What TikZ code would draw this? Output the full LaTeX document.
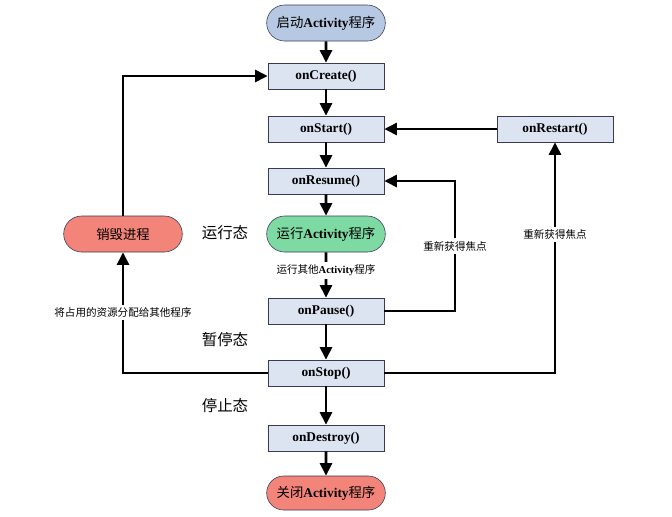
\documentclass[tikz,border=0pt]{standalone}
\usepackage{fontspec}
\setmainfont{Liberation Serif}
\newfontfamily\cjk{Noto Sans CJK SC}
\usetikzlibrary{shapes,arrows.meta}

\definecolor{methodfill}{HTML}{DCE4F2}
\definecolor{launchfill}{HTML}{B7C8E2}
\definecolor{runfill}{HTML}{7DDAA3}
\definecolor{endfill}{HTML}{F3847A}
\definecolor{edge}{HTML}{3A3A55}
\newcommand{\actname}{\textrm{\textbf{Activity}}}

\begin{document}
\begin{tikzpicture}[x=0.025cm, y=-0.025cm,
    method/.style={rectangle, draw=edge, fill=methodfill, minimum width=2.9cm, minimum height=0.65cm, font=\fontsize{9.5}{11}\selectfont\bfseries},
    pill/.style={rounded rectangle, draw=edge, minimum width=3.2cm, minimum height=0.9cm, font=\cjk\fontsize{9.5}{11}\selectfont},
    flow/.style={line width=2.1pt, -{Triangle[length=9pt, width=8.5pt]}},
    note/.style={fill=white, font=\cjk\fontsize{7.5}{9}\selectfont, inner sep=2pt},
    phase/.style={font=\cjk\fontsize{11}{13}\selectfont}
]
\useasboundingbox (0,0) rectangle (672,516);

% Main column
\node[pill, fill=launchfill] (launch) at (326,23) {启动\actname 程序};
\node[method] (create) at (326,76) {onCreate()};
\node[method] (start) at (326,129) {onStart()};
\node[method] (resume) at (326,181) {onResume()};
\node[pill, fill=runfill] (running) at (326,234) {运行\actname 程序};
\node[method] (pause) at (326,311) {onPause()};
\node[method] (stop) at (326,373) {onStop()};
\node[method] (destroy) at (326,438) {onDestroy()};
\node[pill, fill=endfill, minimum height=0.85cm] (close) at (326,493) {关闭\actname 程序};

% Side nodes
\node[method] (restart) at (555,129) {onRestart()};
\node[pill, fill=endfill] (kill) at (123,234) {销毁进程};

% State labels
\node[phase] (runlbl) at (225,233) {运行态};
\node[phase] (pauselbl) at (225,340) {暂停态};
\node[phase] (stoplbl) at (225,406) {停止态};

% Flow
\draw[flow] (launch) -- (create);
\draw[flow] (create) -- (start);
\draw[flow] (start) -- (resume);
\draw[flow] (resume) -- (running);
\draw[flow] (running) -- node[note, pos=0.4] {运行其他\actname 程序} (pause);
\draw[flow] (pause) -- (stop);
\draw[flow] (stop) -- (destroy);
\draw[flow] (destroy) -- (close);
\draw[flow] (restart) -- (start);

% Loops
\coordinate (back) at (455,311);
\draw[flow] (pause.east) -- (back) |- node[note, pos=0.25] {重新获得焦点} (resume.east);
\draw[flow] (stop.east) -| node[note, pos=0.8] {重新获得焦点} (restart.south);
\draw[flow] (stop.west) -| node[note, pos=0.75] {将占用的资源分配给其他程序} (kill.south);
\draw[flow] (kill.north) |- (create.west);

\end{tikzpicture}
\end{document}
